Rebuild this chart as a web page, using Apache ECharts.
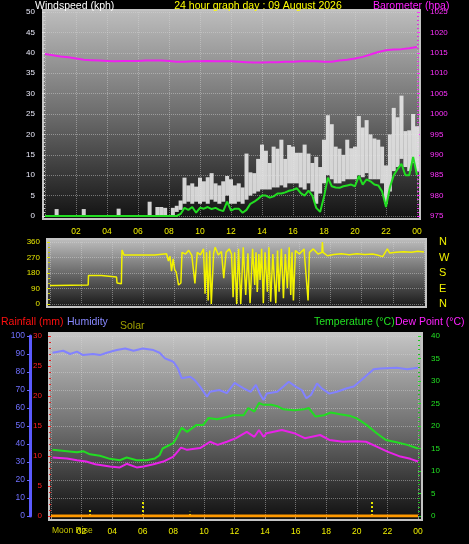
<!DOCTYPE html>
<html><head><meta charset="utf-8">
<script src="https://cdn.jsdelivr.net/npm/echarts@6/dist/echarts.min.js"></script>
<style>html,body{margin:0;padding:0;background:#000;}#c{width:469px;height:544px;}</style>
</head><body><div id="c"></div>
<script>
// ---------- DATA ----------
const windGust = [0,0,0,1.7,0,0,0,0,0,0,1.7,0,0,0,0,0,0,0,0,1.8,0,0,0,0,0,0,0,3.5,0,2.2,2.2,2.0,0,2.0,2.5,3.8,
  9.4,7.5,8,7.2,9.4,8.5,9.5,10.5,8,7.5,8.5,9.8,9,7.5,8,7,15.3,10.7,10.5,14,17.5,16,13,17,16.5,18.7,14,17.4,
  17,15.5,15.5,17.5,15.3,13,14.5,12,18.7,24.7,22.5,17,16.5,15,18.7,16.6,17,24.5,21.7,23.5,20,19,18.7,17,12.4,20,26.5,24.2,29.5,20.8,21,25,22];
const windLow = [0,0,0,0,0,0,0,0,0,0,0,0,0,0,0,0,0,0,0,0,0,0,0,0,0,0,0,0,0,0,0,0,0,0,1,1.5,
  3,3.5,3,3.5,3,3.5,3,4,3.5,3,3.5,5,3,3,3.5,3,4,5,5.5,6,6.5,6.5,6.5,7,7,7.5,7,8,
  8,8,7,6.5,8,6,3,5.5,8,10,9,8,8,8.5,9,9,9,10,9.5,10.5,9,9,9,8,3,6,11,12,14,12,11,13,11];
const windAvg = [0,0,0,0,0,0,0,0,0,0,0,0,0,0,0,0,0,0,0,0,0,0,0,0,0,0,0,0,0,0,0,0,0,0,0,0.5,
  2,1.5,2.2,0.8,2,1.8,2.2,1.7,2,1.5,1.2,3.5,1.3,1.8,1.8,0.8,1.5,3,3.5,4.2,5,5,4.5,4.8,5.5,5.5,5.8,6.2,
  6.4,6.8,5.6,5,6.2,5,2,1,4.7,9.4,7.3,7,6.9,7.3,7.5,7.7,7.3,9.8,7.7,9,8.5,7.7,7.5,6,2.2,7,10,11.5,12.8,10,10,14.5,10];
const windStep = 0.25;

const baroValues = [1014.7,1014.4,1014.1,1013.9,1013.6,1013.3,1013.2,1013.1,1013.0,1012.9,
  1013.0,1013.0,1013.0,1013.1,1013.1,1013.1,1013.0,1012.8,1012.8,1012.9,
  1012.9,1013.0,1012.9,1012.9,1012.9,1012.8,1012.7,1012.6,1012.6,1012.7,
  1012.7,1012.8,1012.8,1012.9,1012.9,1012.9,1012.8,1012.8,1013.1,1013.3,
  1013.6,1014.0,1014.6,1015.2,1015.6,1015.8,1015.9,1016.1,1016.4];
const baroStep = 0.5;

const dirHours = [0,0.25,0.3,0.35,2.45,2.47,3.3,3.33,4.27,4.3,4.58,4.62,4.75,6.73,6.76,7.48,7.6,7.7,7.8,7.9,8.0,8.1,8.25,8.4,8.47,8.7,8.9,9.1,9.3,9.45,9.65,9.85,9.95,10.05,10.15,10.25,10.35,10.5,10.6,10.8,11.0,11.15,11.3,11.5,11.65,11.75,11.85,11.98,12.1,12.24,12.4,12.56,12.7,12.84,13.0,13.14,13.22,13.3,13.4,13.48,13.58,13.69,13.8,13.95,14.05,14.16,14.3,14.49,14.6,14.7,14.85,14.98,15.1,15.23,15.35,15.45,15.53,15.62,15.75,16.0,16.3,16.56,16.65,16.9,17.2,17.45,17.48,17.52,17.8,18.2,18.7,19.2,19.7,20.2,20.7,21.0,21.35,21.65,21.8,22.2,22.7,23.2,23.6,24];
const dirValues = [108,108,98,108,110,165,165,157,157,122,118,314,284,285,292,292,250,278,190,262,200,185,110,122,300,290,312,282,120,300,285,320,60,300,20,310,0,295,330,285,305,150,300,320,290,40,300,0,320,0,330,52,295,5,320,110,300,70,290,140,320,5,300,72,330,13,290,5,310,72,320,33,290,91,330,52,300,20,310,290,320,20,300,320,290,300,360,300,280,288,292,286,292,288,290,284,275,320,296,300,304,300,306,302];

const humHours = [0.1,0.8,1.25,1.7,2.1,2.75,3.2,3.65,4.3,4.85,5.4,6.0,6.7,7.1,7.45,8.0,8.3,8.55,9.1,9.4,9.75,10.2,10.4,11.0,11.5,12.0,12.6,13.05,13.4,13.7,13.9,14.1,14.8,15.2,15.55,16.0,16.4,16.7,17.0,17.4,17.7,18.2,18.7,19.35,19.8,20.3,21.1,21.55,22.6,23.3,24];
const humValues = [90.7,91.8,90,91.3,89.4,90,89.4,90.7,92.2,93.1,91.8,93.1,92.2,90.7,87.6,85.7,82,76.5,77.4,75.5,71.9,66.3,69,70,68.3,73.9,70.9,69,72.8,67.2,64.4,68,69,71.9,74.6,71.9,70,65.4,67.2,73.7,70.9,68,69,71,71.9,75.5,81.5,82,82.4,81.5,82.4];

const tempHours = [0.1,1.05,1.7,2.1,2.55,3.2,3.85,4.5,4.95,5.6,6.25,6.8,7.1,7.3,8.0,8.2,8.55,8.9,9.5,9.95,10.3,10.85,11.5,11.9,12.6,12.9,13.3,13.6,13.9,14.4,14.8,15.2,15.9,16.55,16.85,17.3,17.85,18.3,18.9,19.6,20.0,20.65,21.3,21.9,22.6,23.3,24];
const tempValues = [14.7,14.4,14.15,14.4,13.7,13.4,12.7,12.4,13.0,12.4,12.4,12.8,13.5,15,16.2,17.3,19.6,18.7,20.2,20.2,21.8,21.5,22,22.4,22.4,24,23.2,25.1,24.7,24.7,24.4,23.7,23.5,23.7,24,22.1,22.4,23,22.6,22.2,21.7,20.2,18.4,16.9,16.4,15.8,15];

const dewHours = [0.1,1.05,1.7,2.3,2.9,3.85,4.5,4.95,5.6,6.05,6.7,7.35,8.0,8.5,8.9,9.75,10.4,10.9,11.5,12.1,12.8,13.3,13.6,13.9,14.1,15.1,15.9,16.6,17.6,18.2,19.1,19.9,20.6,21.3,22.0,22.85,23.5,24];
const dewValues = [13.0,12.8,12.4,12.1,11.5,11.0,10.8,11.6,10.8,11.0,11.5,12.1,13.2,15.2,14.7,15.1,16.5,15.8,16.5,17.3,18.7,17.6,19.1,17.6,18.4,19.1,18.4,17.3,18.0,16.9,16.5,16.6,16.5,15.4,14.3,13.2,12.7,12.1];

const rainHours = [0,24];
const rainValues = [0,0];

const markerHours = [2.55,6.0,9.1,21.0];
const markerHeights = [1.2,2.5,0.7,2.5];

const hourTicks = ['02','04','06','08','10','12','14','16','18','20','22','00'];
const dirLabels = {0:'N',90:'E',180:'S',270:'W',360:'N'};

// ---------- CHART ----------
const F = 'Liberation Sans';
const chart = echarts.init(document.getElementById('c'), null, {renderer:'canvas'});
const grad = (stops) => new echarts.graphic.LinearGradient(0,0,0,1,stops);
const hourFmt = v => v === 0 ? '' : hourTicks[v/2 - 1];
const gridLine = {show:true, lineStyle:{color:'rgba(215,215,215,0.45)', type:'dotted', width:1}};
const windX = windGust.map((_, i) => i * windStep);
const baroX = baroValues.map((_, i) => i * baroStep);
const plain = v => String(v);

function xAx(gi, showLabel, margin) {
  return {gridIndex:gi, type:'value', min:0, max:24, interval:2,
    axisLabel:{show:showLabel, color:'#f0f000', fontSize:8.5, fontFamily:F, margin:margin, formatter:hourFmt},
    axisLine:{show:false}, axisTick:{show:gi===2, length:3, lineStyle:{color:'#909090'}},
    splitLine: gridLine};
}

function gustItem(params, api) {
  const x = api.value(0), lo = api.value(1), hi = api.value(2);
  if (!(hi > lo)) return null;
  const p1 = api.coord([x, lo]);
  const p2 = api.coord([x, hi]);
  const w = 4;
  return {type:'rect', shape:{x:p1[0]-w/2, y:p2[1], width:w, height:p1[1]-p2[1]},
    style:{fill:'rgba(232,232,232,0.9)'}};
}

const option = {
  backgroundColor:'#000',
  animation:false,
  grid:[
    {left:45, top:12, width:372, height:204},
    {left:50, top:242, width:374, height:62},
    {left:51, top:336, width:367, height:180}
  ],
  xAxis:[ xAx(0,true,11), xAx(1,false,0), xAx(2,true,11) ],
  yAxis:[
    {gridIndex:0, type:'value', min:0, max:50, interval:5, position:'left',
      axisLabel:{color:'#e6e6f6', fontSize:8, fontFamily:F, margin:10},
      axisLine:{show:false}, axisTick:{show:true, length:3, lineStyle:{color:'#e0e0e0'}},
      minorTick:{show:true, splitNumber:5, length:2, lineStyle:{color:'#d0d0d0'}},
      splitLine:gridLine},
    {gridIndex:0, type:'value', min:975, max:1025, interval:5, position:'right',
      axisLabel:{color:'#ff33ff', fontSize:8, fontFamily:F, margin:13, formatter:plain},
      axisLine:{show:false}, axisTick:{show:true, length:3, lineStyle:{color:'#ff33ff'}},
      minorTick:{show:true, splitNumber:5, length:2, lineStyle:{color:'#dd33dd'}},
      splitLine:{show:false}},
    {gridIndex:1, type:'value', min:0, max:360, interval:90, position:'left',
      axisLabel:{color:'#e6e600', fontSize:8, fontFamily:F, margin:10},
      axisLine:{show:false}, axisTick:{show:true, length:3, lineStyle:{color:'#e6e600'}},
      minorTick:{show:true, splitNumber:3, length:2, lineStyle:{color:'#c8c800'}},
      splitLine:gridLine},
    {gridIndex:1, type:'value', min:0, max:360, interval:90, position:'right',
      axisLabel:{color:'#f0f000', fontSize:11, fontFamily:F, margin:15, formatter:v => dirLabels[v]},
      axisLine:{show:false}, axisTick:{show:false}, splitLine:{show:false}},
    {gridIndex:2, type:'value', min:0, max:30, interval:5, position:'left', offset:0,
      axisLabel:{color:'#ff2020', fontSize:8, fontFamily:F, margin:9},
      axisLine:{show:false}, axisTick:{show:true, length:3, lineStyle:{color:'#ff2020'}},
      minorTick:{show:true, splitNumber:5, length:2, lineStyle:{color:'#dd2020'}},
      splitLine:{show:false}},
    {gridIndex:2, type:'value', min:0, max:100, interval:10, position:'left', offset:21,
      axisLabel:{color:'#7070ff', fontSize:8.5, fontFamily:F, margin:5},
      axisLine:{show:true, lineStyle:{color:'#5a5aff', width:3}},
      axisTick:{show:true, length:3, lineStyle:{color:'#6a6aff'}},
      splitLine:gridLine},
    {gridIndex:2, type:'value', min:0, max:40, interval:5, position:'right',
      axisLabel:{color:'#22e022', fontSize:8, fontFamily:F, margin:13},
      axisLine:{show:false}, axisTick:{show:true, length:3, lineStyle:{color:'#22e022'}},
      minorTick:{show:true, splitNumber:5, length:2, lineStyle:{color:'#22c022'}},
      splitLine:{show:false}}
  ],
  graphic:{elements:[
    {type:'rect', z:-10, shape:{x:43,y:10,width:377,height:209},
      style:{fill:grad([{offset:0,color:'#bebebe'},{offset:0.5,color:'#6c6c6c'},{offset:1,color:'#111'}]), stroke:'#c4c4c4', lineWidth:2}},
    {type:'rect', z:-10, shape:{x:47,y:239,width:379,height:68},
      style:{fill:grad([{offset:0,color:'#c0c0c0'},{offset:0.5,color:'#6a6a6a'},{offset:1,color:'#161616'}]), stroke:'#c4c4c4', lineWidth:2}},
    {type:'rect', z:-10, shape:{x:49,y:333,width:373,height:187},
      style:{fill:grad([{offset:0,color:'#c6c6c6'},{offset:0.5,color:'#707070'},{offset:1,color:'#0e0e0e'}]), stroke:'#c4c4c4', lineWidth:2}},
    {type:'text', x:35, y:6, style:{text:'Windspeed (kph)', fill:'#ffffff', font:'10.5px "Liberation Sans"', verticalAlign:'middle'}},
    {type:'text', x:258, y:6, style:{text:'24 hour graph day : 09 August 2026', fill:'#ffff00', font:'10.5px "Liberation Sans"', align:'center', verticalAlign:'middle'}},
    {type:'text', x:373, y:6, style:{text:'Barometer (hpa)', fill:'#ff22ff', font:'10.5px "Liberation Sans"', verticalAlign:'middle'}},
    {type:'text', x:1, y:322, style:{text:'Rainfall (mm)', fill:'#ff1010', font:'10.5px "Liberation Sans"', verticalAlign:'middle'}},
    {type:'text', x:67, y:322, style:{text:'Humidity', fill:'#8888ff', font:'10.5px "Liberation Sans"', verticalAlign:'middle'}},
    {type:'text', x:120, y:326, style:{text:'Solar', fill:'#a0a000', font:'10.5px "Liberation Sans"', verticalAlign:'middle'}},
    {type:'text', x:314, y:322, style:{text:'Temperature (°C)', fill:'#22e022', font:'10.5px "Liberation Sans"', verticalAlign:'middle'}},
    {type:'text', x:395, y:322, style:{text:'Dew Point (°C)', fill:'#ff22ff', font:'10.5px "Liberation Sans"', verticalAlign:'middle'}},
    {type:'text', x:52, y:531, style:{text:'Moon Rise', fill:'#c8c800', font:'8.5px "Liberation Sans"', verticalAlign:'middle'}}
  ]},
  series:[
    {type:'custom', xAxisIndex:0, yAxisIndex:0, silent:true, z:3,
      renderItem:gustItem, encode:{x:0, y:[1,2]},
      data:windX.map((h,i)=>[h, windLow[i], windGust[i]])},
    {type:'line', xAxisIndex:0, yAxisIndex:0, showSymbol:false, z:5,
      lineStyle:{color:'#22dd22', width:2}, data:windX.map((h,i)=>[h, windAvg[i]])},
    {type:'line', xAxisIndex:0, yAxisIndex:1, showSymbol:false, z:5,
      lineStyle:{color:'#ee22ee', width:2}, data:baroX.map((h,i)=>[h, baroValues[i]])},
    {type:'line', xAxisIndex:1, yAxisIndex:2, showSymbol:false, z:5,
      lineStyle:{color:'#f2f200', width:1.5}, data:dirHours.map((h,i)=>[h, dirValues[i]])},
    {type:'line', xAxisIndex:2, yAxisIndex:5, showSymbol:false, z:5,
      lineStyle:{color:'#8282ff', width:2}, data:humHours.map((h,i)=>[h, humValues[i]])},
    {type:'line', xAxisIndex:2, yAxisIndex:6, showSymbol:false, z:5,
      lineStyle:{color:'#22dd22', width:2}, data:tempHours.map((h,i)=>[h, tempValues[i]])},
    {type:'line', xAxisIndex:2, yAxisIndex:6, showSymbol:false, z:5,
      lineStyle:{color:'#e822e8', width:2}, data:dewHours.map((h,i)=>[h, dewValues[i]])},
    {type:'line', xAxisIndex:2, yAxisIndex:4, showSymbol:false, z:6,
      lineStyle:{color:'#ff9900', width:3}, data:rainHours.map((h,i)=>[h, rainValues[i]]),
      markLine:{silent:true, symbol:['none','none'], label:{show:false},
        lineStyle:{color:'#e6e600', width:2, type:'dotted'},
        data: markerHours.map((h,i)=>[{coord:[h,0]},{coord:[h,markerHeights[i]]}])}}
  ]
};
chart.setOption(option);
</script></body></html>
